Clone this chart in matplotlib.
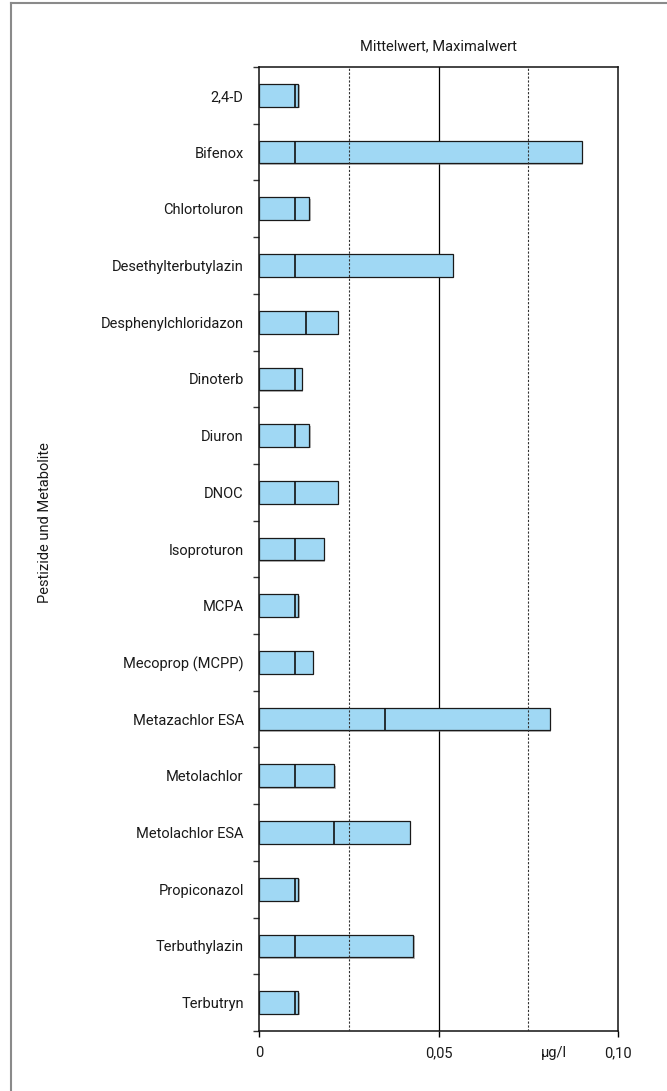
"""Mean and maximum pesticide concentrations as horizontal bars."""

import matplotlib

matplotlib.use("Agg")
import matplotlib.pyplot as plt
import matplotlib.patheffects as pe
from matplotlib.lines import Line2D
import numpy as np

substances = [
    "2,4-D", "Bifenox", "Chlortoluron", "Desethylterbutylazin",
    "Desphenylchloridazon", "Dinoterb", "Diuron", "DNOC", "Isoproturon",
    "MCPA", "Mecoprop (MCPP)", "Metazachlor ESA", "Metolachlor",
    "Metolachlor ESA", "Propiconazol", "Terbuthylazin", "Terbutryn",
]
mean_values = [
    0.010, 0.010, 0.010, 0.010, 0.013, 0.010, 0.010, 0.010, 0.010,
    0.010, 0.010, 0.035, 0.010, 0.021, 0.010, 0.010, 0.010,
]
max_values = [
    0.011, 0.090, 0.014, 0.054, 0.022, 0.012, 0.014, 0.022, 0.018,
    0.011, 0.015, 0.081, 0.021, 0.042, 0.011, 0.043, 0.011,
]
x_ticks = [0, 0.05, 0.10]
x_tick_labels = ["0", "0,05", "0,10"]
dotted_refs = [0.025, 0.075]
solid_refs = [0.05]

plt.rcParams["font.family"] = ["Roboto", "DejaVu Sans"]
fs = 10.5
txt = "#1a1a1a"

fig = plt.figure(figsize=(6.67, 10.91), dpi=100)
ax = fig.add_axes([259 / 667, 60 / 1091, 359 / 667, 964 / 1091])

y = np.arange(len(substances))
bar_h = 0.4
shadow = [pe.SimplePatchShadow(offset=(1, -1), shadow_rgbFace="#777777", alpha=0.5), pe.Normal()]
ax.barh(y, max_values, height=bar_h, color="#a0d8f4", edgecolor="#1a1a1a",
        linewidth=0.9, zorder=3, path_effects=shadow)
ax.vlines(mean_values, y - bar_h / 2, y + bar_h / 2, color="#111111", linewidth=1.2, zorder=4)

for x in solid_refs:
    ax.axvline(x, color="black", linewidth=0.9, zorder=1)
for x in dotted_refs:
    ax.axvline(x, color="#333333", linewidth=0.8, linestyle=(0, (2, 1.5)), zorder=5)

ax.set_xlim(0, 0.10)
ax.set_ylim(len(substances) - 0.5, -0.5)
ax.set_yticks(y, substances, fontsize=fs, color=txt)
ax.set_yticks(np.arange(len(substances) + 1) - 0.5, minor=True)
ax.tick_params(axis="y", which="major", length=0, pad=11)
ax.tick_params(axis="y", which="minor", length=4, width=1, direction="out", color="#333333")
ax.set_xticks(x_ticks, x_tick_labels, fontsize=fs, color=txt)
ax.tick_params(axis="x", length=4, width=1, direction="out", pad=7)
for spine in ax.spines.values():
    spine.set_linewidth(1.1)
    spine.set_color("#111111")

ax.text(0.082, -0.0155, "µg/l", transform=ax.get_xaxis_transform(), ha="center", va="top",
        fontsize=fs, color=txt)
fig.text(438 / 667, 1 - 46 / 1091, "Mittelwert, Maximalwert", ha="center", va="center",
         fontsize=fs, color=txt)
fig.text(45 / 667, 1 - 523 / 1091, "Pestizide und Metabolite", ha="center", va="center",
         rotation=90, fontsize=fs, color=txt)

# frame lines at top and left of the figure
fig.add_artist(Line2D([10.5 / 667, 1], [1 - 3 / 1091, 1 - 3 / 1091], color="#8a8a8a", linewidth=1.5))
fig.add_artist(Line2D([10.5 / 667, 10.5 / 667], [0, 1 - 3 / 1091], color="#8a8a8a", linewidth=1.5))

fig.savefig("out.png", dpi=100)
plt.close(fig)
